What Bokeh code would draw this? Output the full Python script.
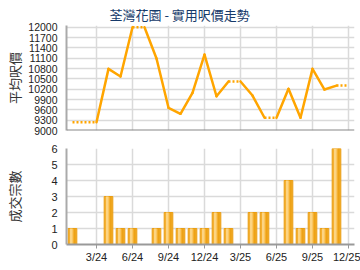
from bokeh.plotting import figure
from bokeh.layouts import column
from bokeh.models import FixedTicker, Range1d, ColumnDataSource, Span
from bokeh.transform import dodge
from bokeh.embed import file_html
from bokeh.resources import INLINE

# month index 0 = 1/24 ... 23 = 12/25
months = list(range(24))
tick_pos = [2, 5, 8, 11, 14, 17, 20, 23]
tick_labels = ["3/24", "6/24", "9/24", "12/24", "3/25", "6/25", "9/25", "12/25"]

# average price per sq ft (None = no transaction that month)
prices = [9240, None, None, 10790, 10570, 12000, None, 11090, 9660, 9485,
          10095, 11205, 9995, 10425, None, 10015, 9370, None, 10210, 9370,
          10790, 10190, 10305, None]
# number of transactions
counts = [1, 0, 0, 3, 1, 1, 0, 1, 2, 1, 1, 1, 2, 1, 0, 2, 2, 0, 4, 1, 2, 1, 6, 0]

price_ticks = list(range(9000, 12001, 300))
count_ticks = [0, 1, 2, 3, 4, 5, 6]

title_text = "荃灣花園 - 實用呎價走勢"
y1_title = "平均呎價"
y2_title = "成交宗數"

ORANGE = "#FFA500"
GRID = "#dadada"
TICKFONT = "Liberation Sans"
CJK = "Noto Sans CJK TC"

# carry forward missing months
filled = []
last = None
for v in prices:
    if v is not None:
        last = v
    filled.append(last)

solid_xs, solid_ys, dot_xs, dot_ys = [], [], [], []
for i in range(1, len(months)):
    seg_x = [months[i - 1], months[i]]
    seg_y = [filled[i - 1], filled[i]]
    if prices[i] is None:
        dot_xs.append(seg_x); dot_ys.append(seg_y)
    else:
        solid_xs.append(seg_x); solid_ys.append(seg_y)

def style_common(p):
    p.outline_line_color = None
    p.background_fill_color = "white"
    p.border_fill_color = "white"
    p.xgrid.grid_line_color = GRID
    p.ygrid.grid_line_color = GRID
    p.xgrid.grid_line_width = 1.5
    p.ygrid.grid_line_width = 1.5
    p.xgrid.ticker = FixedTicker(ticks=tick_pos)
    p.yaxis.major_tick_out = 0
    p.yaxis.major_tick_in = 0
    p.yaxis.minor_tick_out = 0
    p.yaxis.minor_tick_in = 0
    p.yaxis.axis_line_color = "#aaaaaa"
    p.yaxis.axis_line_width = 2
    p.yaxis.major_label_text_font = TICKFONT
    p.yaxis.major_label_text_color = "#222222"
    p.yaxis.major_label_standoff = 9
    p.yaxis.axis_label_text_font = CJK
    p.yaxis.axis_label_text_font_size = "13px"
    p.yaxis.axis_label_text_font_style = "normal"
    p.yaxis.axis_label_text_color = "#333333"
    p.xaxis.minor_tick_out = 0
    p.xaxis.minor_tick_in = 0
    p.xaxis.axis_line_color = "#999999"
    p.xaxis.axis_line_width = 2
    p.xaxis.ticker = FixedTicker(ticks=tick_pos)

# ---------- top: price line ----------
p1 = figure(width=360, height=135, x_range=Range1d(-0.5, 23.5),
            y_range=Range1d(9000, 12050), output_backend="svg",
            toolbar_location=None, min_border_left=66, min_border_right=6,
            min_border_top=25, min_border_bottom=5)
style_common(p1)
p1.xaxis.visible = False
p1.yaxis.ticker = FixedTicker(ticks=price_ticks)
p1.yaxis.major_label_text_font_size = "10.5px"
p1.yaxis.axis_label = y1_title
p1.yaxis.axis_label_standoff = 1

p1.title.text = title_text
p1.title.text_font = CJK
p1.title.text_font_size = "13px"
p1.title.text_font_style = "normal"
p1.title.text_color = "#163a6a"
p1.title.align = "left"
p1.title.offset = 43
p1.title.standoff = 4

p1.add_layout(Span(location=9000, dimension="width", line_color="#888888",
                   line_width=2))

p1.multi_line(xs=solid_xs, ys=solid_ys, line_color=ORANGE, line_width=2.5,
              line_join="round", line_cap="round")
p1.multi_line(xs=dot_xs, ys=dot_ys, line_color=ORANGE, line_width=2.5,
              line_dash="2 2")

# ---------- bottom: transaction bars ----------
bm = [m for m, c in zip(months, counts) if c > 0]
bc = [c for c in counts if c > 0]
src = ColumnDataSource(dict(m=bm, c=bc))

p2 = figure(width=360, height=135, x_range=Range1d(-0.5, 23.5),
            y_range=Range1d(0, 6), output_backend="svg",
            toolbar_location=None, min_border_left=66, min_border_right=6,
            min_border_top=13, min_border_bottom=26)
style_common(p2)
p2.yaxis.ticker = FixedTicker(ticks=count_ticks)
p2.yaxis.major_label_text_font_size = "11px"
p2.yaxis.axis_label = y2_title
p2.yaxis.axis_label_standoff = 24
p2.xaxis.major_label_overrides = {t: l for t, l in zip(tick_pos, tick_labels)}
p2.xaxis.major_label_text_font = TICKFONT
p2.xaxis.major_label_text_font_size = "11px"
p2.xaxis.major_label_text_color = "#222222"
p2.xaxis.major_tick_out = 4
p2.xaxis.major_tick_in = 0
p2.xaxis.major_tick_line_color = "#999999"
p2.xaxis.major_label_standoff = 2

p2.vbar(x="m", top="c", width=0.72, source=src, fill_color="#F5B030",
        line_color="#E99E14", line_width=1)
p2.vbar(x=dodge("m", -0.1, range=p2.x_range), top="c", width=0.22,
        source=src, fill_color="#FCD483", line_color=None)
p2.vbar(x=dodge("m", 0.2, range=p2.x_range), top="c", width=0.12,
        source=src, fill_color="#EC9F12", line_color=None)

layout = column(p1, p2, spacing=0)
open("out.html", "w").write(file_html(layout, INLINE))
